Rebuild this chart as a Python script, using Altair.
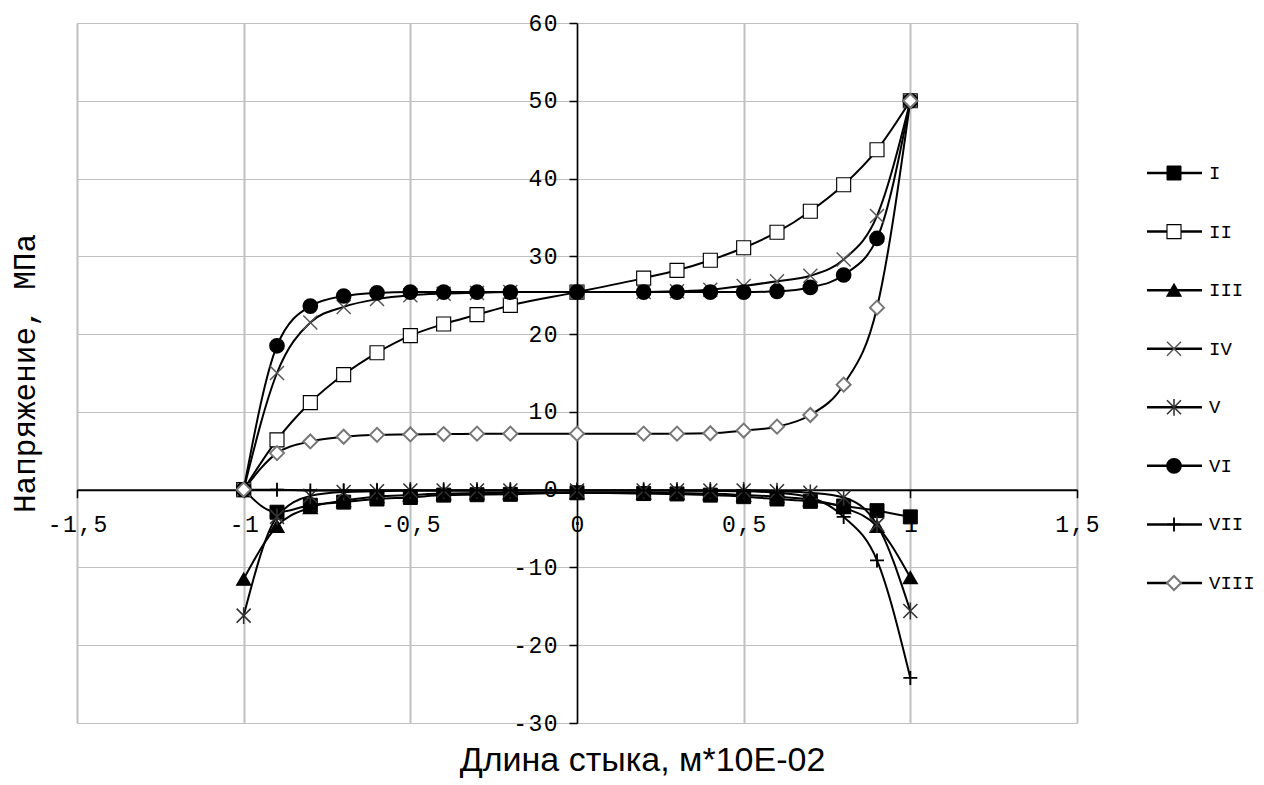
import altair as alt
import pandas as pd

# ---------------- data ----------------
x_vals = [-1.0, -0.9, -0.8, -0.7, -0.6, -0.5, -0.4, -0.3, -0.2, 0.0,
          0.2, 0.3, 0.4, 0.5, 0.6, 0.7, 0.8, 0.9, 1.0]
series_names = ["I", "II", "III", "IV", "V", "VI", "VII", "VIII"]

s_I = [0, -2.9, -2.0, -1.6, -1.2, -1.0, -0.7, -0.65, -0.6, -0.4,
       -0.5, -0.55, -0.7, -0.9, -1.2, -1.5, -2.1, -2.7, -3.5]
s_II = [0, 6.4, 11.2, 14.8, 17.6, 19.8, 21.3, 22.5, 23.7, 25.4,
        27.2, 28.2, 29.5, 31.1, 33.1, 35.8, 39.2, 43.7, 50]
s_III = [-11.5, -4.7, -2.3, -1.4, -0.9, -0.7, -0.5, -0.45, -0.4, -0.4,
         -0.4, -0.45, -0.5, -0.7, -0.9, -1.3, -2.3, -4.7, -11.3]
s_IV = [0, 15.0, 21.5, 23.5, 24.5, 25.0, 25.2, 25.3, 25.4, 25.4,
        25.4, 25.5, 25.7, 26.2, 26.8, 27.5, 29.6, 35.2, 50]
s_V = [-16.2, -3.5, -0.8, -0.3, -0.2, -0.1, -0.1, -0.1, -0.1, -0.1,
       -0.1, -0.1, -0.1, -0.1, -0.2, -0.4, -1.0, -4.5, -15.6]
s_VI = [0, 18.5, 23.6, 24.9, 25.3, 25.4, 25.4, 25.4, 25.4, 25.4,
        25.4, 25.4, 25.4, 25.4, 25.5, 26.0, 27.6, 32.3, 50]
s_VII = [0, 0, -0.1, -0.1, -0.1, -0.1, -0.1, -0.1, -0.1, -0.1,
         -0.1, -0.1, -0.15, -0.2, -0.4, -1.0, -3.5, -9.1, -24.2]
s_VIII = [0, 4.7, 6.2, 6.8, 7.05, 7.1, 7.15, 7.2, 7.2, 7.2,
          7.2, 7.2, 7.25, 7.6, 8.1, 9.6, 13.5, 23.4, 50]

series_values = [s_I, s_II, s_III, s_IV, s_V, s_VI, s_VII, s_VIII]

x_ticks = [-1.5, -1.0, -0.5, 0.0, 0.5, 1.0, 1.5]
y_ticks = [-30, -20, -10, 0, 10, 20, 30, 40, 50, 60]

x_title = "Длина стыка, м*10E-02"
y_title = "Напряжение, МПа"

rows = []
for name, vals in zip(series_names, series_values):
    for xv, yv in zip(x_vals, vals):
        rows.append({"series": name, "x": xv, "y": yv})
df = pd.DataFrame(rows)

# ---------------- styles ----------------
W, H = 1000, 700
xdom = [-1.5, 1.5]
ydom = [-30, 60]
y_axis_offset = -W * (0 - xdom[0]) / (xdom[1] - xdom[0])   # y axis at x = 0
x_axis_offset = -H * (0 - ydom[0]) / (ydom[1] - ydom[0])   # x axis at y = 0
x_axis_pos = H + x_axis_offset

MONO = "Liberation Mono"
SP = "\u200a"

shape_range = ["square", "square", "triangle-up",
               "M-1,-1L1,1M-1,1L1,-1",
               "M-1,-1L1,1M-1,1L1,-1M0,-1.2L0,1.2",
               "circle",
               "M-1,0L1,0M0,-1L0,1",
               "diamond"]
fill_range = ["black", "white", "black", "transparent", "transparent",
              "black", "transparent", "white"]
stroke_range = ["black", "black", "black", "#555555", "#333333",
                "black", "black", "#777777"]
size_range = [196, 196, 196, 170, 196, 210, 240, 150]
sw_range = [1, 2, 1, 1, 1.2, 1, 1.5, 1]

shape_enc = alt.Shape("series:N", scale=alt.Scale(domain=series_names, range=shape_range), legend=None)
fill_enc = alt.Fill("series:N", scale=alt.Scale(domain=series_names, range=fill_range), legend=None)
stroke_enc = alt.Stroke("series:N", scale=alt.Scale(domain=series_names, range=stroke_range), legend=None)
size_enc = alt.Size("series:N", scale=alt.Scale(domain=series_names, range=size_range), legend=None)
sw_enc = alt.StrokeWidth("series:N", scale=alt.Scale(domain=series_names, range=sw_range), legend=None)

lab_expr = "join(split(replace(toString(datum.value), '.', ','), ''), '" + SP + "')"

x_enc = alt.X(
    "x:Q",
    scale=alt.Scale(domain=xdom, nice=False, zero=False),
    axis=alt.Axis(
        values=x_ticks, labelExpr=lab_expr, offset=x_axis_offset,
        title=x_title, titleX=565, titleY=747 - x_axis_pos, titleAlign="center",
        titleBaseline="alphabetic", titleFont="Liberation Sans",
        titleFontSize=34, titleFontWeight="normal", titleColor="black",
        grid=True, gridColor="#c0c0c0", gridWidth=2,
        domainColor="black", domainWidth=2,
        tickColor="black", tickSize=8, tickWidth=1.5,
        labelFont=MONO, labelFontSize=23, labelColor="black",
        labelPadding=16, labelFlush=False, labelOverlap=False,
    ),
)
y_enc = alt.Y(
    "y:Q",
    scale=alt.Scale(domain=ydom, nice=False, zero=False),
    axis=alt.Axis(
        values=y_ticks, labelExpr=lab_expr, offset=y_axis_offset,
        title=y_title, titleX=y_axis_offset - 52, titleY=H / 2,
        titleAngle=270, titleAlign="center", titleBaseline="middle",
        titleFont=MONO, titleFontSize=31, titleFontWeight="normal",
        titleColor="black",
        grid=True, gridColor="#c0c0c0", gridWidth=1,
        domainColor="black", domainWidth=1.5,
        tickColor="black", tickSize=8, tickWidth=1.5,
        labelFont=MONO, labelFontSize=23, labelColor="black",
        labelPadding=12, labelFlush=False, labelOverlap=False,
    ),
)

base = alt.Chart(df)
lines = base.mark_line(color="black", strokeWidth=2, interpolate="monotone").encode(
    x=x_enc, y=y_enc, detail="series:N"
)
points = base.mark_point(opacity=1).encode(
    x="x:Q", y="y:Q",
    shape=shape_enc, fill=fill_enc, stroke=stroke_enc, size=size_enc, strokeWidth=sw_enc,
)
main = alt.layer(lines, points).properties(width=W, height=H)

# ---------------- legend panel ----------------
leg_df = pd.DataFrame({"series": series_names})
leg_y = alt.Y("series:N", scale=alt.Scale(type="point", domain=series_names, range=[150, 560], padding=0), axis=None)
leg_base = alt.Chart(leg_df)
leg_rules = leg_base.mark_rule(color="black", strokeWidth=2.5).encode(
    y=leg_y, x=alt.value(30), x2=alt.value(85)
)
leg_pts = leg_base.mark_point(opacity=1).encode(
    y=leg_y, x=alt.value(57),
    shape=shape_enc, fill=fill_enc, stroke=stroke_enc, size=size_enc, strokeWidth=sw_enc,
)
leg_txt = leg_base.mark_text(align="left", baseline="middle", font=MONO, fontSize=19, color="black").encode(
    y=leg_y, x=alt.value(92), text="series:N"
)
legend = alt.layer(leg_rules, leg_pts, leg_txt).properties(
    width=130, height=H, view=alt.ViewBackground(stroke="transparent")
)

chart = alt.hconcat(main, legend, spacing=40, bounds="flush").resolve_scale(
    x="independent", y="independent"
).properties(
    padding={"left": 0, "top": 3, "right": 0, "bottom": 0}
).configure_view(stroke="#808080", strokeWidth=2).configure(background="white")

chart.save("out.html", embed_options={"renderer": "svg", "actions": False})
